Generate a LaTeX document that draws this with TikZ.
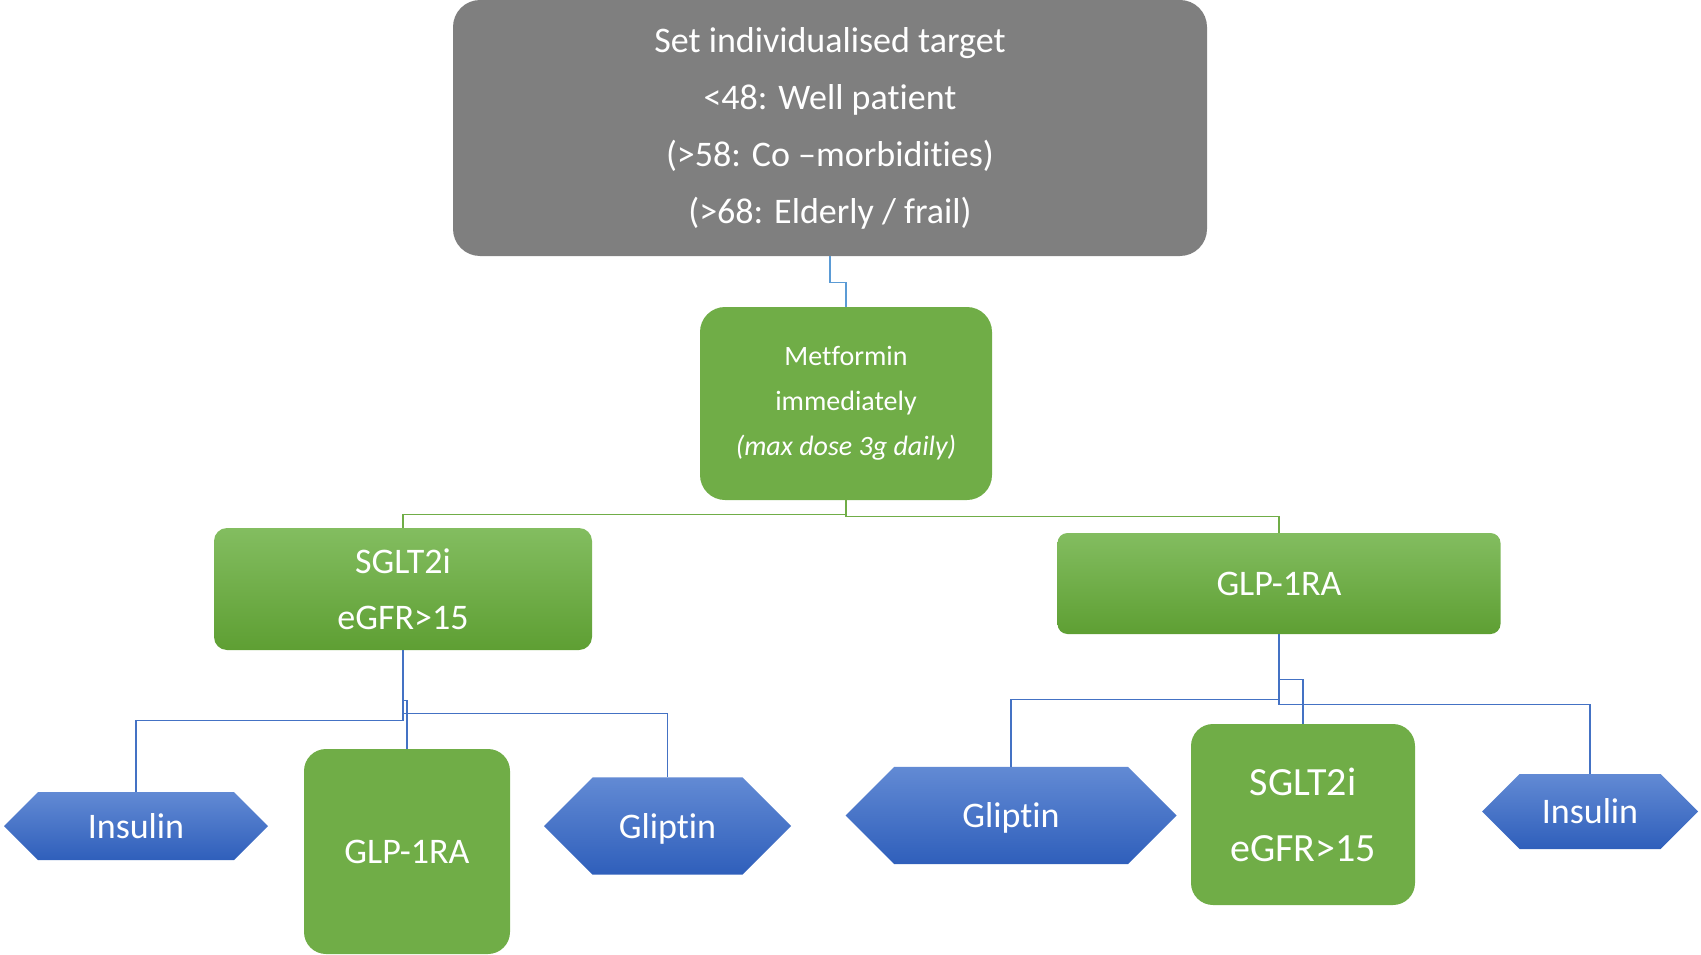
\documentclass[tikz,border=0pt]{standalone}
\usepackage{fontspec}
\setmainfont{Carlito}[Ligatures=NoCommon]
\usetikzlibrary{shapes.misc}
\definecolor{boxgrey}{HTML}{7F7F7F}
\definecolor{drgreen}{HTML}{70AD47}
\definecolor{lgreen}{HTML}{83BD60}
\definecolor{dgreen}{HTML}{5E9F33}
\definecolor{lblue}{HTML}{628AD4}
\definecolor{dblue}{HTML}{2F5FBB}
\definecolor{skyline}{HTML}{5B9BD5}
\definecolor{blueline}{HTML}{4472C4}
\newcommand{\hexlabel}[1]{\raisebox{-12pt}[0pt][0pt]{#1}}
\tikzstyle{goal} = [rectangle, rounded corners = 27pt, minimum width = 754pt, minimum height = 256pt, fill = boxgrey, text = white, align = center, font = \fontsize{36}{57}\selectfont]
\tikzstyle{first} = [rectangle, rounded corners = 25pt, minimum width = 292pt, minimum height = 193pt, fill = drgreen, text = white, align = center, font = \fontsize{28}{45}\selectfont]
\tikzstyle{second} = [rectangle, rounded corners = 13pt, top color = lgreen, bottom color = dgreen, text = white, align = center, font = \fontsize{36}{56}\selectfont]
\tikzstyle{third} = [rectangle, rounded corners = 22pt, fill = drgreen, text = white, align = center, font = \fontsize{36}{56}\selectfont]
\tikzstyle{hexa} = [chamfered rectangle, chamfered rectangle corners = {north east, south east, north west, south west}, inner sep = 0pt, top color = lblue, bottom color = dblue, text = white, font = \fontsize{36}{44}\selectfont]
\tikzstyle{link} = [line width = 1.3pt, blueline]

\begin{document}
\begin{tikzpicture}[x = 1pt, y = -1pt]
    \useasboundingbox (0,0) rectangle (1701,955);
    % \node(label)[style]{text};
    \node(target)[goal] at (830,128){Set individualised target\\<48: Well patient\\(>58: Co –morbidities)\\(>68: Elderly / frail)};
    \node(met)[first] at (846,403.5){Metformin\\immediately\\\textit{(max dose 3g daily)}};
    \node(sglA)[second, minimum width = 378pt, minimum height = 122pt] at (403,589){SGLT2i\\eGFR>15};
    \node(glpA)[second, rounded corners = 10pt, minimum width = 443pt, minimum height = 101pt] at (1279,583.5){GLP-1RA};
    \node(insA)[hexa, minimum width = 264pt, chamfered rectangle xsep = 52pt, chamfered rectangle ysep = 34pt] at (136,826){\hexlabel{Insulin}};
    \node(glpB)[third, minimum width = 206pt, minimum height = 205pt] at (407,851.5){GLP-1RA};
    \node(gliA)[hexa, minimum width = 247pt, chamfered rectangle xsep = 50pt, chamfered rectangle ysep = 53pt] at (667.5,826){\hexlabel{Gliptin}};
    \node(gliB)[hexa, minimum width = 331pt, chamfered rectangle xsep = 66pt, chamfered rectangle ysep = 53pt] at (1011,815.5){\hexlabel{Gliptin}};
    \node(sglB)[third, font = \fontsize{40}{66}\selectfont, minimum width = 224pt, minimum height = 181pt] at (1303,814.5){SGLT2i\\eGFR>15};
    \node(insB)[hexa, minimum width = 216pt, chamfered rectangle xsep = 42.5pt, chamfered rectangle ysep = 37.5pt] at (1590,811.5){\hexlabel{Insulin}};

    \draw[link, skyline](target.south)--++(0,26)-|(met.north);
    \draw[link, drgreen](met.south)--++(0,14)-|(sglA.north);
    \draw[link, drgreen](met.south)--++(0,16)-|(glpA.north);
    \draw[link](sglA.south)--++(0,70)-|(insA.north);
    \draw[link](sglA.south)--++(0,50)-|(glpB.north);
    \draw[link](sglA.south)--++(0,63)-|(gliA.north);
    \draw[link](glpA.south)--++(0,45)-|(sglB.north);
    \draw[link](glpA.south)--++(0,65)-|(gliB.north);
    \draw[link](glpA.south)--++(0,70)-|(insB.north);
\end{tikzpicture}
\end{document}
